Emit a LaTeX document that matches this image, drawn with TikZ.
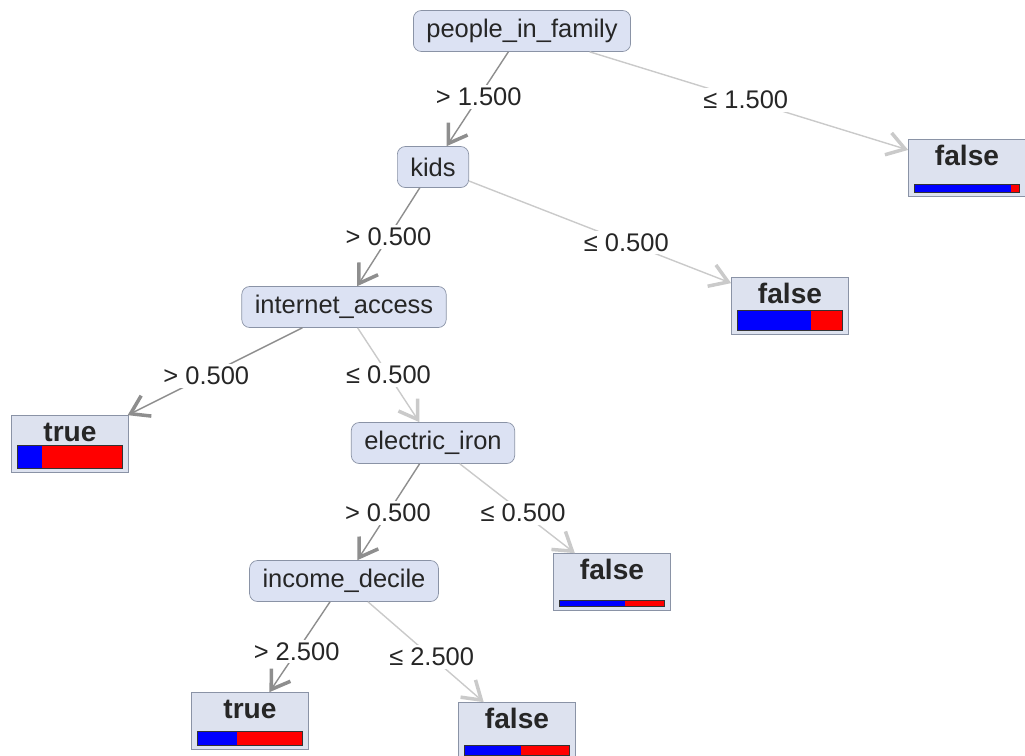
\documentclass[tikz,border=0pt]{standalone}
\usepackage{fontspec}
\setmainfont{Liberation Sans}
\usetikzlibrary{arrows.meta, positioning}

\definecolor{nodefill}{HTML}{DCE2F3}
\definecolor{leaffill}{HTML}{DDE2EF}
\definecolor{nodeline}{HTML}{8A93A6}
\definecolor{edgedark}{HTML}{8E8E8E}
\definecolor{edgelight}{HTML}{CACACA}
\definecolor{ink}{HTML}{262626}

\tikzset{
  >={Straight Barb[length=10pt,width=13pt,line width=2pt]},
  split/.style={draw=nodeline, fill=nodefill, rounded corners=4.5pt,
    inner xsep=0.26cm, minimum height=0.82cm, text=ink,
    font=\fontsize{14.5}{17}\selectfont},
  leaf/.style={draw=nodeline, fill=leaffill, minimum width=2.34cm,
    inner ysep=0pt, text height=0.52cm, text depth=0.62cm, text=ink,
    font=\fontsize{16}{19}\selectfont\bfseries},
  yes/.style={->, draw=edgedark, line width=0.8pt},
  no/.style={->, draw=edgelight, line width=0.8pt},
  cond/.style={fill=white, inner sep=1.5pt, text=ink,
    font=\fontsize{14.5}{17}\selectfont}
}

% class bar: node, share of blue, bar height
\newcommand{\classbar}[3]{
  \fill[blue] ([shift={(6,-4)}]#1.south west) rectangle ++({105*#2},{-#3});
  \fill[red] ([shift={({6+105*#2},-4)}]#1.south west) rectangle ++({105*(1-#2)},{-#3});
  \draw[black!80, line width=0.6pt] ([shift={(6,-4)}]#1.south west) rectangle ++(105,{-#3});
}

\begin{document}
\begin{tikzpicture}[x=0.02cm, y=-0.02cm]
    \useasboundingbox (0,0) rectangle (1025,755);
    \clip (0,0) rectangle (1025,755);
    % splits
    \node[split] (people) at (522,31) {people\_in\_family};
    \node[split] (kids) at (433,167) {kids};
    \node[split] (internet) at (344,307) {internet\_access};
    \node[split] (iron) at (433,443) {electric\_iron};
    \node[split] (income) at (344,581) {income\_decile};
    % leaves
    \node[leaf] (leafA) at (967,168) {false};
    \node[leaf] (leafB) at (790,306) {false};
    \node[leaf] (leafC) at (70,444) {true};
    \node[leaf] (leafD) at (612,582) {false};
    \node[leaf] (leafE) at (250,721) {true};
    \node[leaf] (leafF) at (517,731) {false};
    \classbar{leafA}{0.92}{8}
    \classbar{leafB}{0.70}{20}
    \classbar{leafC}{0.24}{23}
    \classbar{leafD}{0.63}{6}
    \classbar{leafE}{0.38}{14}
    \classbar{leafF}{0.54}{10}
    % edges
    \draw[yes] (people) -- node[cond, pos=0.48] {> 1.500} (kids);
    \draw[no] (people) -- node[cond, pos=0.49] {≤ 1.500} (leafA);
    \draw[yes] (kids) -- node[cond, pos=0.5] {> 0.500} (internet);
    \draw[no] (kids) -- node[cond, pos=0.6] {≤ 0.500} (leafB);
    \draw[yes] (internet) -- node[cond, pos=0.55] {> 0.500} (leafC);
    \draw[no] (internet) -- node[cond, pos=0.5] {≤ 0.500} (iron);
    \draw[yes] (iron) -- node[cond, pos=0.51] {> 0.500} (income);
    \draw[no] (iron) -- node[cond, pos=0.55] {≤ 0.500} (leafD);
    \draw[yes] (income) -- node[cond, pos=0.55] {> 2.500} (leafE);
    \draw[no] (income) -- node[cond, pos=0.55] {≤ 2.500} (leafF);
\end{tikzpicture}
\end{document}
